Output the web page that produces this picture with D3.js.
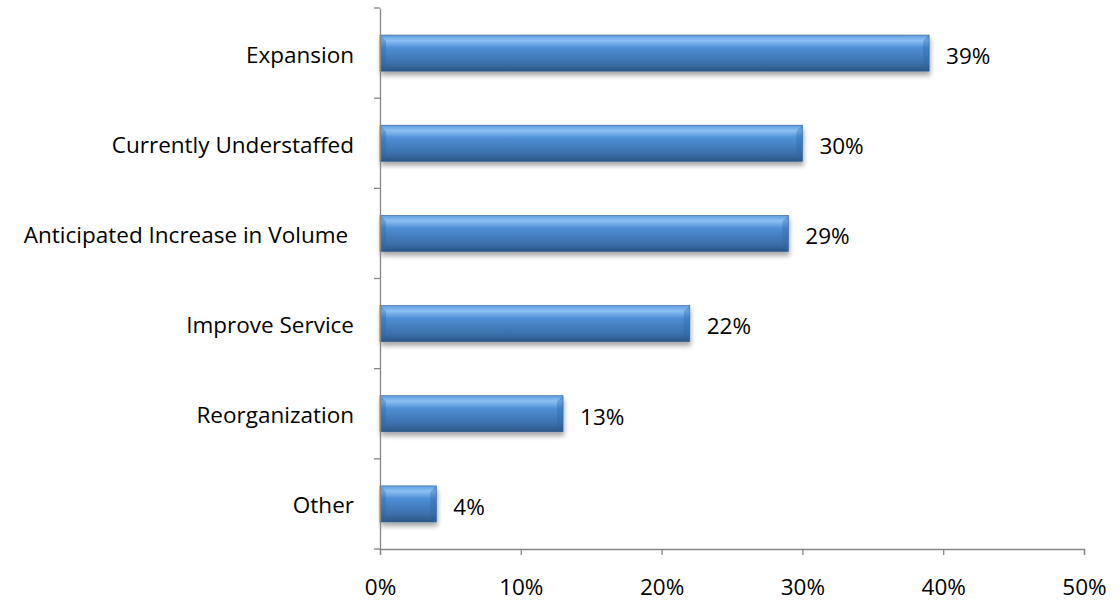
<!DOCTYPE html>
<html>
<head>
<meta charset="utf-8">
<script src="https://cdn.jsdelivr.net/npm/d3@7"></script>
<style>
  body { margin: 0; background: #fff; }
  text { font-family: "Open Sans", sans-serif; fill: #000; }
</style>
</head>
<body>
<div id="chart"></div>
<script>
// categories top to bottom, values in percent
var categories = ["Expansion", "Currently Understaffed", "Anticipated Increase in Volume ", "Improve Service", "Reorganization", "Other"];
var values = [39, 30, 29, 22, 13, 4];
var xTicks = [0, 10, 20, 30, 40, 50];

var W = 1120, H = 606;
var margin = {top: 8, right: 36, bottom: 57, left: 380};
var width = W - margin.left - margin.right;
var height = H - margin.top - margin.bottom;
var fontSize = "22.5px";

var svg = d3.select("#chart")
  .append("svg")
  .attr("width", W)
  .attr("height", H);

var defs = svg.append("defs");
var grad = defs.append("linearGradient")
  .attr("id", "barGrad")
  .attr("x1", 0).attr("y1", 0).attr("x2", 0).attr("y2", 1);
grad.append("stop").attr("offset", "0%").attr("stop-color", "#5f9de0");
grad.append("stop").attr("offset", "15%").attr("stop-color", "#8cc0f4");
grad.append("stop").attr("offset", "35%").attr("stop-color", "#4f8fd6");
grad.append("stop").attr("offset", "80%").attr("stop-color", "#3a6ea8");
grad.append("stop").attr("offset", "100%").attr("stop-color", "#2a5686");

var shadow = defs.append("filter").attr("id", "shadow")
  .attr("x", "-5%").attr("y", "-20%").attr("width", "115%").attr("height", "160%");
shadow.append("feGaussianBlur").attr("in", "SourceAlpha").attr("stdDeviation", 2.5);
shadow.append("feOffset").attr("dx", 1).attr("dy", 4).attr("result", "b");
shadow.append("feComponentTransfer").append("feFuncA").attr("type", "linear").attr("slope", 0.35);
var merge = shadow.append("feMerge");
merge.append("feMergeNode");
merge.append("feMergeNode").attr("in", "SourceGraphic");

var g = svg.append("g")
  .attr("transform", "translate(" + margin.left + "," + margin.top + ")");

var x = d3.scaleLinear().domain([0, 50]).range([0, width]);
var y = d3.scaleBand().domain(categories).range([0, height])
  .paddingInner(0.6).paddingOuter(0.3);

// bars
var bars = g.selectAll(".bar")
  .data(categories)
  .enter().append("g")
  .attr("class", "bar");

bars.append("rect")
  .attr("x", 0)
  .attr("y", function(d) { return y(d); })
  .attr("width", function(d, i) { return x(values[i]); })
  .attr("height", y.bandwidth())
  .attr("fill", "url(#barGrad)")
  .attr("stroke", "#2f5d90")
  .attr("stroke-width", 0.6)
  .attr("filter", "url(#shadow)");

// bevel shading on the bar ends
bars.append("path")
  .attr("d", function(d, i) {
    var x0 = 0, x1 = x(values[i]), y0 = y(d), h = y.bandwidth(), b = 6;
    return "M" + x0 + "," + y0 + "L" + (x0 + b) + "," + (y0 + b) + "L" + (x0 + b) + "," + (y0 + h - b) + "L" + x0 + "," + (y0 + h) + "Z" +
      "M" + x1 + "," + y0 + "L" + (x1 - b) + "," + (y0 + b) + "L" + (x1 - b) + "," + (y0 + h - b) + "L" + x1 + "," + (y0 + h) + "Z";
  })
  .attr("fill", "#2f64a0")
  .attr("opacity", 0.35);

// value labels
g.selectAll(".val")
  .data(categories)
  .enter().append("text")
  .attr("class", "val")
  .attr("x", function(d, i) { return x(values[i]) + 17; })
  .attr("y", function(d) { return y(d) + y.bandwidth() / 2 + 3; })
  .attr("dy", "0.35em")
  .style("font-size", fontSize)
  .text(function(d, i) { return values[i] + "%"; });

// y axis
var yAxis = g.append("g")
  .call(d3.axisLeft(y).tickSize(0).tickPadding(26));
yAxis.select(".domain").attr("stroke", "#868686").attr("stroke-width", 1.3);
yAxis.selectAll("text").style("font-size", fontSize).style("white-space", "pre")
  .attr("font-family", null).attr("dy", "0.42em");

var bounds = d3.range(categories.length + 1).map(function(i) { return i * height / categories.length; });
g.selectAll(".ytick")
  .data(bounds)
  .enter().append("line")
  .attr("x1", -6).attr("x2", 0)
  .attr("y1", function(d) { return d; })
  .attr("y2", function(d) { return d; })
  .attr("stroke", "#868686").attr("stroke-width", 1.3);

// x axis
var xAxis = g.append("g")
  .attr("transform", "translate(0," + height + ")")
  .call(d3.axisBottom(x).tickValues(xTicks).tickSize(6).tickPadding(24)
    .tickFormat(function(d) { return d + "%"; }));
xAxis.select(".domain").attr("stroke", "#868686").attr("stroke-width", 1.3);
xAxis.selectAll("line").attr("stroke", "#868686").attr("stroke-width", 1.3);
xAxis.selectAll("text").style("font-size", fontSize).attr("font-family", null);
</script>
</body>
</html>
